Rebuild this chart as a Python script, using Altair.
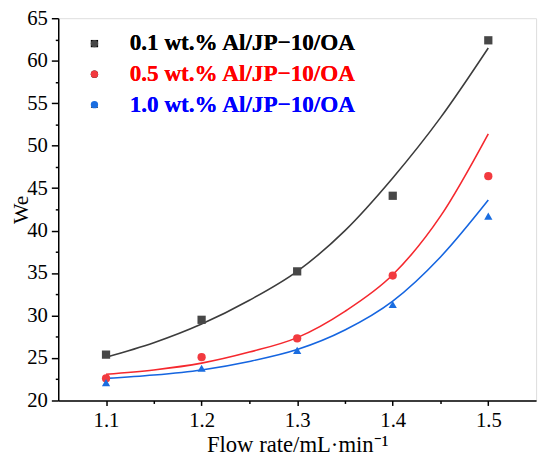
import altair as alt
import pandas as pd

# ---- data ----
flow = [1.1, 1.2, 1.3, 1.4, 1.5]
we_01 = [25.4, 29.5, 35.2, 44.1, 62.4]
we_05 = [22.6, 25.1, 27.3, 34.7, 46.4]
we_10 = [22.1, 23.8, 25.9, 31.3, 41.7]

fit_flow = [1.1, 1.15, 1.2, 1.25, 1.3, 1.35, 1.4, 1.45, 1.5]
fit_01 = [25.1, 26.8, 29.0, 31.8, 35.2, 40.0, 46.2, 53.3, 61.5]
fit_05 = [23.1, 23.6, 24.4, 25.7, 27.4, 30.5, 34.8, 41.7, 51.4]
fit_10 = [22.6, 23.0, 23.6, 24.6, 26.0, 28.3, 31.7, 36.9, 43.6]

series = ["0.1 wt.% Al/JP\u221210/OA", "0.5 wt.% Al/JP\u221210/OA", "1.0 wt.% Al/JP\u221210/OA"]
marker_colors = ["#474747", "#f23a3f", "#1a6de0"]
line_colors = ["#3c3c3c", "#f5282e", "#1565e0"]
label_colors = ["#000000", "#ff0000", "#0000ff"]
shapes = ["square", "circle", "triangle-up"]

x_ticks = [1.1, 1.15, 1.2, 1.25, 1.3, 1.35, 1.4, 1.45, 1.5]
y_ticks = [20, 22.5, 25, 27.5, 30, 32.5, 35, 37.5, 40, 42.5, 45, 47.5, 50,
           52.5, 55, 57.5, 60, 62.5, 65]

FONT = "Liberation Serif"
LEGEND_FONT = "'Liberation Serif', 'Times New Roman', Times, serif"

pts_rows = []
for s, vals in zip(series, [we_01, we_05, we_10]):
    for f, v in zip(flow, vals):
        pts_rows.append({"flow": f, "we": v, "series": s})
pts = pd.DataFrame(pts_rows)

fit_rows = []
for s, vals in zip(series, [fit_01, fit_05, fit_10]):
    for f, v in zip(fit_flow, vals):
        fit_rows.append({"flow": f, "we": v, "series": s})
fits = pd.DataFrame(fit_rows)

label_expr_color = " : ".join(
    f"datum.value == '{s}' ? '{c}'" for s, c in zip(series[:-1], label_colors[:-1])
) + f" : '{label_colors[-1]}'"

x_enc = alt.X(
    "flow:Q",
    scale=alt.Scale(domain=[1.05, 1.55], nice=False, zero=False),
    axis=alt.Axis(
        values=x_ticks,
        labelExpr="(round(datum.value*100) % 10 == 0) ? format(datum.value, '.1f') : ''",
        tickSize={"expr": "(round(datum.value*100) % 10 == 0) ? 5 : 3"},
        labelPadding=4,
        labelFont=FONT, labelFontSize=21, labelColor="#000",
        labelFlush=False, labelOverlap=False,
        titleFont=FONT, titleFontSize=23, titleFontWeight="normal", titleColor="#000",
        titleBaseline="alphabetic", titleY=52,
        domainColor="#000", domainWidth=1.5, tickColor="#000", tickWidth=1.5,
        grid=False,
    ),
    title="Flow rate/mL\u00b7min\u207b\u00b9",
)
y_enc = alt.Y(
    "we:Q",
    scale=alt.Scale(domain=[20, 65], nice=False, zero=False),
    axis=alt.Axis(
        values=y_ticks,
        labelExpr="(datum.value % 5 == 0) ? format(datum.value, 'd') : ''",
        tickSize={"expr": "(datum.value % 5 == 0) ? 7 : 3"},
        labelPadding=4,
        labelFont=FONT, labelFontSize=21, labelColor="#000",
        labelFlush=False, labelOverlap=False,
        titleFont=FONT, titleFontSize=22, titleFontWeight="normal", titleColor="#000",
        titleBaseline="alphabetic", titleX=-31, titleY=194,
        domainColor="#000", domainWidth=1.5, tickColor="#000", tickWidth=1.5,
        grid=False,
    ),
    title="We",
)

legend = alt.Legend(
    title=None, orient="none", legendX=25, legendY=14,
    labelFont=LEGEND_FONT, labelFontSize=23.5, labelFontWeight=700,
    labelColor={"expr": label_expr_color},
    symbolSize=55, symbolStrokeWidth=0, labelOffset=24, rowPadding=6,
    padding=0, labelLimit=400,
)

lines = alt.Chart(fits).mark_line(strokeWidth=1.6, interpolate="monotone").encode(
    x=x_enc, y=y_enc,
    color=alt.Color("series:N", scale=alt.Scale(domain=series, range=line_colors), legend=None),
    detail="series:N",
)

points = alt.Chart(pts).mark_point(filled=True, size=70, opacity=1).encode(
    x=x_enc, y=y_enc,
    color=alt.Color("series:N", scale=alt.Scale(domain=series, range=marker_colors), legend=legend),
    shape=alt.Shape("series:N", scale=alt.Scale(domain=series, range=shapes), legend=legend),
)

chart = alt.layer(lines, points).resolve_scale(color="independent").properties(
    width=485, height=388,
    autosize=alt.AutoSizeParams(type="none"),
    padding={"left": 51, "top": 7, "right": 6, "bottom": 56},
).configure_view(
    stroke="#000", strokeWidth=1.5
).configure_legend(
    labelFont=LEGEND_FONT, labelFontSize=23.5, labelFontWeight=700
).configure(background="white")

chart.save("out.html", embed_options={"renderer": "svg", "actions": False})
